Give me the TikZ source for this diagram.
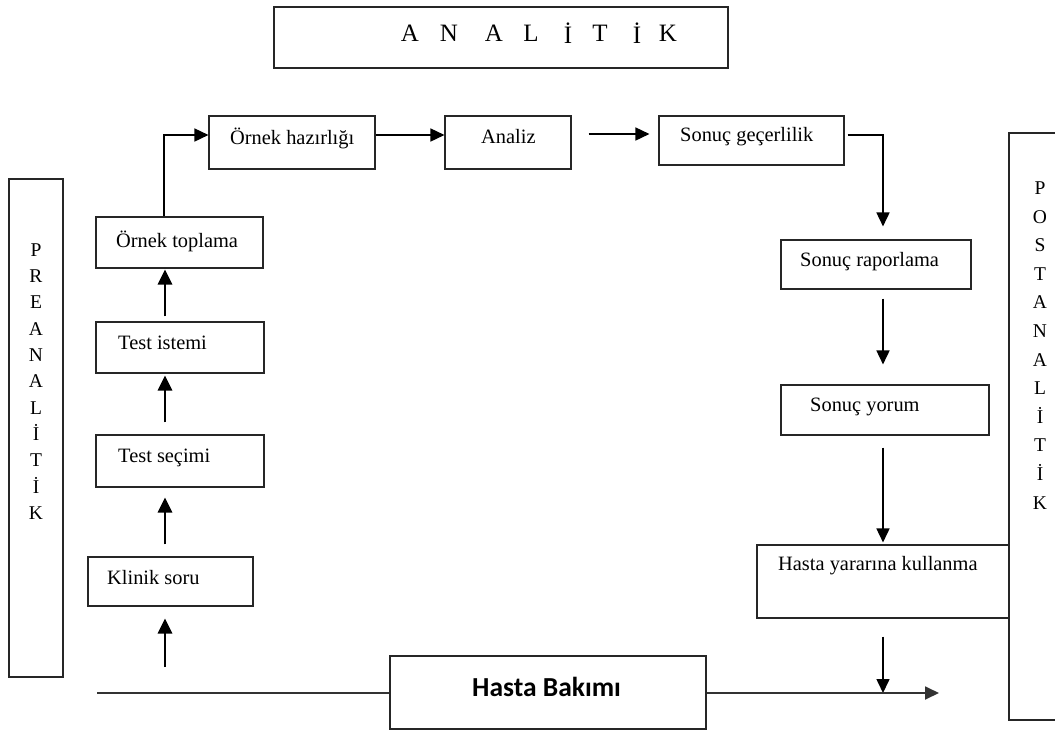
\documentclass[tikz,border=0pt]{standalone}
\usepackage{fontspec}
\setmainfont{Liberation Serif}
\newfontfamily\calibfont{Carlito}
\usetikzlibrary{arrows.meta}
\newcommand\boxnode[5]{\node[box,minimum width={#4-#2},minimum height={#5-#3}] (#1) at ({(#2+#4)/2},{(#3+#5)/2}) {};}
\begin{document}
\begin{tikzpicture}[x=1pt,y=-1pt,
 box/.style={draw=black!85,line width=1.1pt,inner sep=0pt},
 lbl/.style={anchor=west,inner sep=0pt,font=\fontsize{20.4}{24}\selectfont},
 vlbl/.style={align=center,inner sep=0pt,font=\fontsize{19.5}{26.3}\selectfont},
 arr/.style={line width=1.6pt,-{Triangle[length=14pt,width=13pt]}},
 arrb/.style={line width=2.8pt,-{Triangle[length=15pt,width=14pt]}},
 hline/.style={line width=1.8pt,draw=black!80},
 bigl/.style={inner sep=0pt,font=\fontsize{25}{28}\selectfont}]
\useasboundingbox (0,0) rectangle (1055,731);
\fill[white] (0,0) rectangle (1055,731);
% boxes
\boxnode{analitik}{274}{7}{728}{68}
\boxnode{ohaz}{209}{116}{375}{169}
\boxnode{analiz}{445}{116}{571}{169}
\boxnode{sgec}{659}{116}{844}{165}
\boxnode{srap}{781}{240}{971}{289}
\boxnode{syor}{781}{385}{989}{435}
\boxnode{hyk}{757}{545}{1009}{618}
\boxnode{otop}{96}{217}{263}{268}
\boxnode{tist}{96}{322}{264}{373}
\boxnode{tsec}{96}{435}{264}{487}
\boxnode{klin}{88}{557}{253}{606}
\boxnode{hb}{390}{656}{706}{729}
\boxnode{pre}{9}{179}{63}{677}
\boxnode{post}{1009}{133}{1071}{720}
% labels
\foreach \ch/\xx in {A/410,N/449,A/494,L/531,İ/568,T/600,İ/637,K/668}
  \node[bigl] at (\xx,33) {\ch};
\node[lbl] at (230,138) {Örnek hazırlığı};
\node[lbl] at (481,137) {Analiz};
\node[lbl] at (680,137) {Sonuç geçerlilik};
\node[lbl] at (800,262) {Sonuç raporlama};
\node[lbl] at (810,407) {Sonuç yorum};
\node[lbl] at (778,566) {Hasta yararına kullanma};
\node[lbl] at (116,241) {Örnek toplama};
\node[lbl] at (118,343) {Test istemi};
\node[lbl] at (118,458) {Test seçimi};
\node[lbl] at (107,578) {Klinik soru};
\node[anchor=west,inner sep=0pt,font=\calibfont\bfseries\fontsize{27.5}{30}\selectfont] at (472,687) {Hasta Bakımı};
\node[vlbl] at (36,381.5) {P\\R\\E\\A\\N\\A\\L\\İ\\T\\İ\\K};
\node[vlbl,font=\fontsize{19.5}{28.6}\selectfont] at (1040,345.5) {P\\O\\S\\T\\A\\N\\A\\L\\İ\\T\\İ\\K};
% helper coordinates
\coordinate (ax) at (165,0);
\coordinate (bx) at (883,0);
\coordinate (hstart) at (97,693);
\coordinate (hend) at (939,693);
% left column arrows
\draw[arrb,shorten <=26pt,shorten >=12pt] (ax |- hstart) -- (ax |- klin.south);
\draw[arrb,shorten <=12pt,shorten >=10pt] (ax |- klin.north) -- (ax |- tsec.south);
\draw[arrb,shorten <=12pt,shorten >=2pt] (ax |- tsec.north) -- (ax |- tist.south);
\draw[arrb,shorten <=5pt,shorten >=1pt] (ax |- tist.north) -- (ax |- otop.south);
% top row
\draw[arr] (otop.north -| 164,0) |- ([yshift=7.5pt]ohaz.west);
\draw[arr] ([yshift=7.5pt]ohaz.east) -- ([yshift=7.5pt]analiz.west);
\draw[arr,shorten <=17pt,shorten >=9pt] ([yshift=8.5pt]analiz.east) -- ([yshift=8.5pt]analiz.east -| sgec.west);
\draw[arr,shorten >=13pt] ([xshift=3pt,yshift=5.5pt]sgec.east) -| (bx |- srap.north);
% right column
\draw[arr,shorten <=9pt,shorten >=20pt] (bx |- srap.south) -- (bx |- syor.north);
\draw[arr,shorten <=12pt,shorten >=2pt] (bx |- syor.south) -- (bx |- hyk.north);
\draw[arr,shorten <=18pt] (bx |- hyk.south) -- (bx |- hend);
% bottom line
\draw[hline] (hstart) -- (hb.west |- hstart);
\draw[hline,-{Triangle[length=14pt,width=13pt]}] (hb.east |- hstart) -- (hend);
\end{tikzpicture}
\end{document}
